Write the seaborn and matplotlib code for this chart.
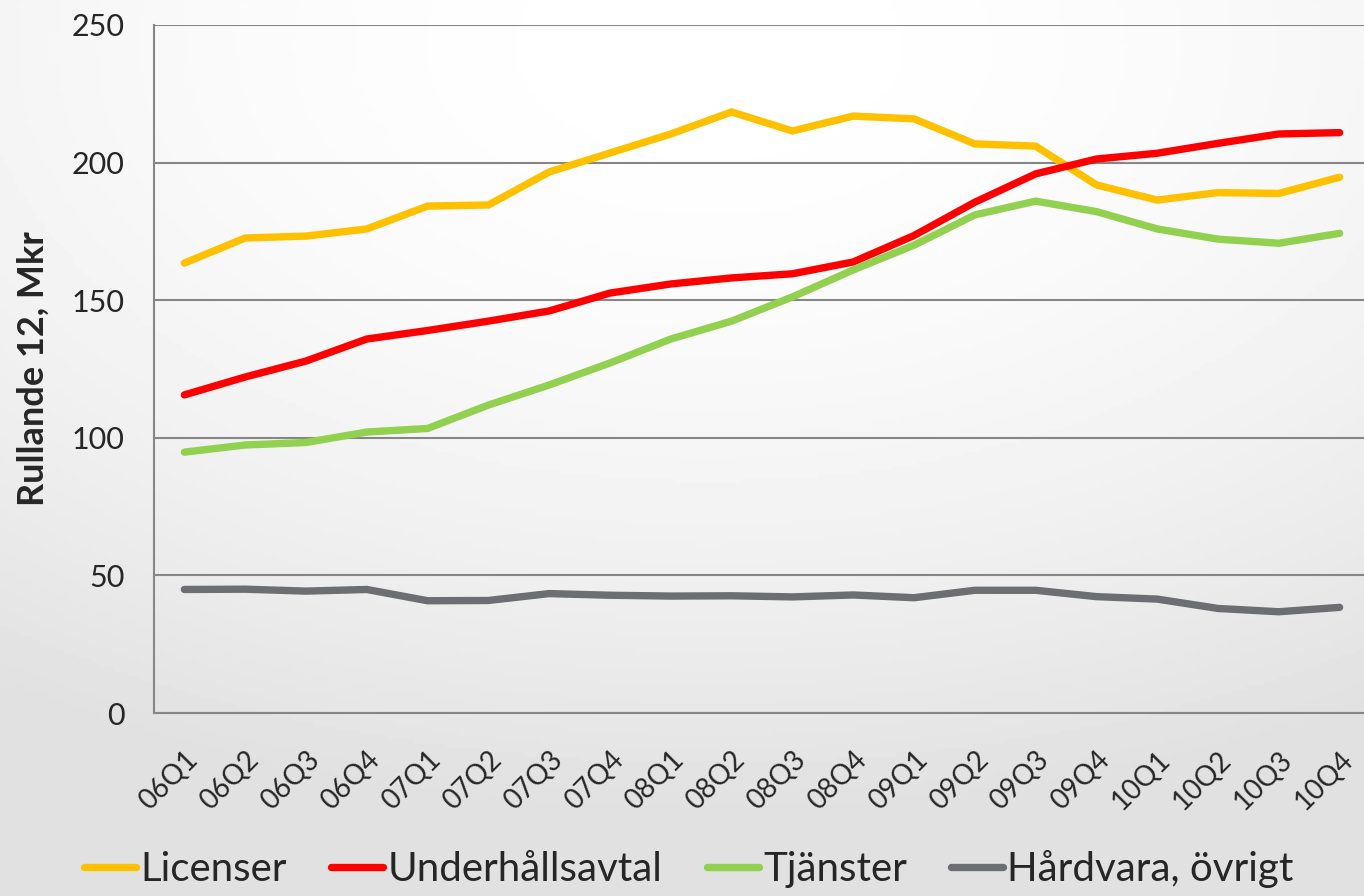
import numpy as np
import pandas as pd
import seaborn as sns
import matplotlib.pyplot as plt

# kvartal och rullande 12 (Mkr)
kvartal = ["06Q1", "06Q2", "06Q3", "06Q4", "07Q1", "07Q2", "07Q3", "07Q4",
           "08Q1", "08Q2", "08Q3", "08Q4", "09Q1", "09Q2", "09Q3", "09Q4",
           "10Q1", "10Q2", "10Q3", "10Q4"]
licenser = [163.5, 172.6, 173.3, 175.9, 184.2, 184.6, 196.6, 203.5, 210.4, 218.4,
            211.5, 216.9, 215.9, 206.8, 206.0, 191.9, 186.4, 189.1, 188.8, 194.7]
underhall = [115.6, 122.1, 127.9, 135.9, 139.0, 142.4, 146.1, 152.6, 155.9, 158.1,
             159.6, 163.9, 173.5, 185.6, 195.9, 201.3, 203.4, 207.0, 210.4, 210.9]
tjanster = [94.8, 97.4, 98.3, 102.1, 103.4, 111.9, 119.2, 127.2, 135.9, 142.4,
            151.2, 161.0, 170.0, 181.0, 186.0, 182.2, 175.9, 172.2, 170.7, 174.3]
hardvara = [44.9, 45.0, 44.3, 44.9, 40.8, 40.9, 43.4, 42.8, 42.5, 42.6,
            42.2, 42.9, 41.9, 44.6, 44.6, 42.3, 41.4, 38.0, 36.8, 38.4]
serier = ["Licenser", "Underhållsavtal", "Tjänster", "Hårdvara, övrigt"]
farger = ["#FFC000", "#FF0000", "#92D050", "#6D6E71"]
yticks = [0, 50, 100, 150, 200, 250]

rows = []
for namn, vals in zip(serier, [licenser, underhall, tjanster, hardvara]):
    for i, v in enumerate(vals):
        rows.append({"pos": i, "Kvartal": kvartal[i], "Serie": namn, "Mkr": v})
df = pd.DataFrame(rows)

sns.set_style("white")
plt.rcParams["font.family"] = ["Lato", "DejaVu Sans"]

fig = plt.figure(figsize=(13.64, 8.96), dpi=100)

# bakgrund med mjuk gradient
bg = fig.add_axes([0, 0, 1, 1], zorder=-10)
yy, xx = np.mgrid[0:1:200j, 0:1:300j]
d = np.sqrt(((xx - 0.52) * 1.0) ** 2 + ((yy - 0.05) * 1.1) ** 2)
bg.imshow(1 - 0.12 * np.clip(d / 0.95, 0, 1) ** 1.8, cmap="gray", vmin=0, vmax=1,
          extent=[0, 1, 0, 1], aspect="auto", origin="upper")
bg.axis("off")

ax = fig.add_axes([0.1129, 0.2042, 0.8915, 0.7679])
ax.patch.set_alpha(0)
sns.lineplot(data=df, x="pos", y="Mkr", hue="Serie", hue_order=serier,
             palette=farger, linewidth=5.3, ax=ax, legend=False,
             solid_capstyle="round", solid_joinstyle="miter", zorder=3)

ax.set_ylim(0, 250)
ax.set_xlim(-0.5, 19.5)
ax.set_yticks(yticks)
ax.yaxis.grid(True, color="#868686", linewidth=1.5)
ax.set_axisbelow(True)
for s in ["top", "right"]:
    ax.spines[s].set_visible(False)
for s in ["left", "bottom"]:
    ax.spines[s].set_color("#868686")
    ax.spines[s].set_linewidth(1.5)

ax.set_xticks(range(len(kvartal)))
ax.set_xticklabels(kvartal, rotation=45, ha="right", rotation_mode="anchor")
ax.set_xticks(np.arange(-0.5, 20, 1), minor=True)
ax.tick_params(axis="x", which="major", length=0, pad=24, labelsize=20)
ax.tick_params(axis="x", which="minor", length=7, width=1.5, color="#868686")
ax.tick_params(axis="y", length=7, width=1.5, color="#868686", pad=14, labelsize=22)

ax.set_xlabel("")
ax.set_ylabel("Rullande 12, Mkr", fontsize=26, fontweight="bold", labelpad=16)

handles = [plt.Line2D([], [], color=c, linewidth=5.3, solid_capstyle="round") for c in farger]
fig.legend(handles, serier, loc="lower center", bbox_to_anchor=(0.505, -0.014),
           ncol=4, frameon=False, fontsize=29, handlelength=1.3,
           handletextpad=0.1, columnspacing=1.1, borderpad=0)

fig.savefig("out.png", dpi=100)
